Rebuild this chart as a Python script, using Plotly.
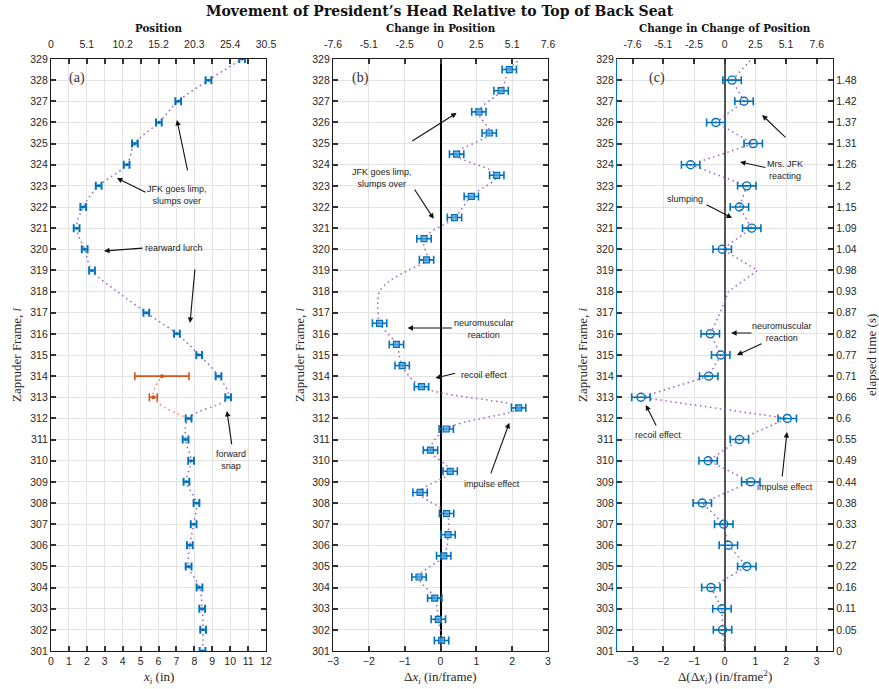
import plotly.graph_objects as go

# ---------------- data ----------------
# Panel (a): head position x_i (in) per Zapruder frame
frames_a = [301, 302, 303, 304, 305, 306, 307, 308, 309, 310, 311, 312, 313, 314,
            315, 316, 317, 319, 320, 321, 322, 323, 324, 325, 326, 327, 328, 329]
pos_a = [8.46, 8.49, 8.44, 8.29, 7.68, 7.75, 7.96, 8.12, 7.56, 7.82, 7.51, 7.68, 9.89, 9.35,
         8.27, 7.03, 5.32, 2.29, 1.88, 1.43, 1.80, 2.66, 4.22, 4.68, 6.02, 7.10, 8.79, 10.67]
err_a = [0.16] * len(frames_a)

# alternative (orange) reading for frames 313-314
frames_alt = [313, 314]
pos_alt = [5.71, 6.19]
err_alt = [0.22, 1.51]
trend_alt_frames = [312, 313, 314]
trend_alt = [7.68, 5.71, 6.19]

# dotted trend through panel (a)
trend_a_frames = list(range(301, 330))
trend_a = [8.46, 8.49, 8.44, 8.29, 7.68, 7.75, 7.96, 8.12, 7.56, 7.82, 7.51, 7.68, 9.89, 9.35,
           8.27, 7.03, 5.32, 3.70, 2.29, 1.88, 1.43, 1.80, 2.66, 4.22, 4.68, 6.02, 7.10, 8.79, 10.67]

# Panel (b): change in position (in/frame) at half frames
frames_b = [301.5, 302.5, 303.5, 304.5, 305.5, 306.5, 307.5, 308.5, 309.5, 310.5, 311.5,
            312.5, 313.5, 314.5, 315.5, 316.5, 319.5, 320.5, 321.5, 322.5, 323.5, 324.5,
            325.5, 326.5, 327.5, 328.5]
delta_b = [0.03, -0.06, -0.16, -0.60, 0.09, 0.21, 0.17, -0.57, 0.27, -0.28, 0.16,
           2.18, -0.53, -1.07, -1.23, -1.70, -0.39, -0.46, 0.39, 0.86, 1.57, 0.45,
           1.36, 1.07, 1.69, 1.92]
err_b = [0.20] * len(frames_b)

trend_b_frames = [301, 301.5, 302.5, 303.5, 304.5, 305.5, 306.5, 307.5, 308.5, 309.5, 310.5,
                  311.5, 312.5, 313.5, 314.5, 315.5, 316.5, 317, 317.5, 318, 318.5, 319,
                  319.5, 320.5, 321.5, 322.5, 323.5, 324.5, 325.5, 326.5, 327.5, 328.5, 329]
trend_b = [0.00, 0.03, -0.06, -0.16, -0.60, 0.09, 0.21, 0.17, -0.57, 0.27, -0.28,
           0.16, 2.18, -0.53, -1.07, -1.23, -1.70, -1.74, -1.75, -1.70, -1.42, -0.91,
           -0.39, -0.46, 0.39, 0.86, 1.57, 0.45, 1.36, 1.07, 1.69, 1.92, 2.24]

# Panel (c): change in change of position (in/frame^2)
frames_c = [302, 303, 304, 305, 306, 307, 308, 309, 310, 311, 312, 313, 314, 315, 316,
            320, 321, 322, 323, 324, 325, 326, 327, 328]
dd_c = [-0.07, -0.09, -0.45, 0.72, 0.12, -0.03, -0.73, 0.85, -0.54, 0.48, 2.04, -2.73,
        -0.52, -0.13, -0.47, -0.08, 0.88, 0.48, 0.72, -1.11, 0.93, -0.29, 0.63, 0.24]
err_c = [0.30] * len(frames_c)

trend_c_frames = list(range(301, 330))
trend_c = [0.00, -0.07, -0.09, -0.45, 0.72, 0.12, -0.03, -0.73, 0.85, -0.54, 0.48, 2.04, -2.73,
           -0.52, -0.13, -0.47, -0.15, 0.12, 1.07, -0.08, 0.88, 0.48, 0.72, -1.11, 0.93,
           -0.29, 0.63, 0.24, 0.88]

# tick labels
frame_ticks = list(range(301, 330))
cm_ticks_a_vals = [0, 2, 4, 6, 8, 10, 12]
cm_ticks_a_text = ["0", "5.1", "10.2", "15.2", "20.3", "25.4", "30.5"]
cm_ticks_bc_vals = [-3, -2, -1, 0, 1, 2, 3]
cm_ticks_bc_text = ["-7.6", "-5.1", "-2.5", "0", "2.5", "5.1", "7.6"]
time_frames = list(range(301, 329))
time_labels = ["0", "0.05", "0.11", "0.16", "0.22", "0.27", "0.33", "0.38", "0.44", "0.49",
               "0.55", "0.6", "0.66", "0.71", "0.77", "0.82", "0.87", "0.93", "0.98", "1.04",
               "1.09", "1.15", "1.2", "1.26", "1.31", "1.37", "1.42", "1.48"]

# ---------------- styles ----------------
BLUE = "#0072BD"
ORANGE = "#D95319"
PURPLE = "#9A62C4"
GRID = "#E3E3E3"
SANS = "Liberation Sans, Arial, sans-serif"
TSERIF = "DejaVu Serif, serif"
LSERIF = "Liberation Serif, serif"

W, H = 879, 689
ydom = [1 - 651 / H, 1 - 59 / H]
dom_a = [51 / W, 266 / W]
dom_b = [333 / W, 548 / W]
dom_c = [617 / W, 833 / W]

fig = go.Figure()

dot = dict(color=PURPLE, width=1.5, dash="1.5px,3.5px")

# panel a
fig.add_trace(go.Scatter(x=trend_a, y=trend_a_frames, mode="lines", line=dict(shape="spline", **dot),
                         xaxis="x", yaxis="y", hoverinfo="skip"))
fig.add_trace(go.Scatter(x=trend_alt, y=trend_alt_frames, mode="lines",
                         line=dict(color="#E8875A", width=1.5, dash="1.5px,3.5px", shape="spline"),
                         xaxis="x", yaxis="y", hoverinfo="skip"))
fig.add_trace(go.Scatter(x=pos_a, y=frames_a, mode="markers",
                         marker=dict(color=BLUE, size=3),
                         error_x=dict(type="data", array=err_a, color=BLUE, thickness=2, width=4),
                         xaxis="x", yaxis="y"))
fig.add_trace(go.Scatter(x=pos_alt, y=frames_alt, mode="markers",
                         marker=dict(color=ORANGE, size=4),
                         error_x=dict(type="data", array=err_alt, color=ORANGE, thickness=1.6, width=4),
                         xaxis="x", yaxis="y"))

# panel b
fig.add_trace(go.Scatter(x=trend_b, y=trend_b_frames, mode="lines", line=dict(shape="spline", **dot),
                         xaxis="x2", yaxis="y2", hoverinfo="skip"))
fig.add_trace(go.Scatter(x=delta_b, y=frames_b, mode="markers",
                         marker=dict(symbol="square", color="rgba(77,160,220,0.75)", size=6,
                                     line=dict(color=BLUE, width=1.2)),
                         error_x=dict(type="data", array=err_b, color=BLUE, thickness=1.6, width=4),
                         xaxis="x2", yaxis="y2"))

# panel c
fig.add_trace(go.Scatter(x=trend_c, y=trend_c_frames, mode="lines", line=dot,
                         xaxis="x3", yaxis="y3", hoverinfo="skip"))
fig.add_trace(go.Scatter(x=dd_c, y=frames_c, mode="markers",
                         marker=dict(symbol="circle-open", color=BLUE, size=8, line=dict(width=1.4)),
                         error_x=dict(type="data", array=err_c, color=BLUE, thickness=1.6, width=4),
                         xaxis="x3", yaxis="y3"))

# invisible anchors for overlay axes
for xa, ya in [("x4", "y"), ("x5", "y2"), ("x6", "y3"), ("x3", "y4")]:
    fig.add_trace(go.Scatter(x=[None], y=[None], xaxis=xa, yaxis=ya, mode="markers",
                             showlegend=False, hoverinfo="skip"))

tickfont = dict(family=SANS, size=10.5, color="#262626")


def xbase(dom, rng, dtick, anchor, zeroline=False, zcolor="black", zwidth=1):
    return dict(domain=dom, range=rng, anchor=anchor, dtick=dtick, tick0=0, automargin=False,
                showgrid=True, gridcolor=GRID, gridwidth=1,
                showline=True, linecolor="#1a1a1a", linewidth=1.2, mirror="ticks",
                ticks="inside", ticklen=5, tickwidth=1.5, tickcolor="#333",
                tickfont=tickfont, zeroline=zeroline, zerolinecolor=zcolor, zerolinewidth=zwidth,
                fixedrange=True)


def ybase(dom, anchor, linecolor="#1a1a1a", mirror="ticks"):
    return dict(domain=dom, range=[301, 329], anchor=anchor, tickvals=frame_ticks, automargin=False,
                showgrid=True, gridcolor=GRID, gridwidth=1,
                showline=True, linecolor=linecolor, linewidth=1.2, mirror=mirror,
                ticks="inside", ticklen=5, tickwidth=1.5, tickcolor="#333",
                tickfont=tickfont, zeroline=False, fixedrange=True)


def xtop(dom, rng, over, anchor, vals, texts):
    return dict(domain=dom, range=rng, overlaying=over, anchor=anchor, side="top", automargin=False,
                tickvals=vals, ticktext=texts, showgrid=False, zeroline=False,
                showline=False, ticks="outside", ticklen=6, tickcolor="rgba(0,0,0,0)",
                tickfont=tickfont, fixedrange=True)


fig.update_layout(
    width=W, height=H, margin=dict(l=0, r=0, t=0, b=0),
    paper_bgcolor="white", plot_bgcolor="white", showlegend=False,
    xaxis=xbase(dom_a, [0, 12], 1, "y"),
    yaxis=ybase(ydom, "x"),
    xaxis2=xbase(dom_b, [-3, 3], 1, "y2", zeroline=True, zcolor="black", zwidth=1.5),
    yaxis2=ybase(ydom, "x2"),
    xaxis3=xbase(dom_c, [-3.51, 3.53], 1, "y3", zeroline=True, zcolor="#555555", zwidth=2),
    yaxis3=ybase(ydom, "x3", linecolor=BLUE, mirror=False),
    xaxis4=xtop(dom_a, [0, 12], "x", "y", cm_ticks_a_vals, cm_ticks_a_text),
    xaxis5=xtop(dom_b, [-3, 3], "x2", "y2", cm_ticks_bc_vals, cm_ticks_bc_text),
    xaxis6=xtop(dom_c, [-3.51, 3.53], "x3", "y3", cm_ticks_bc_vals, cm_ticks_bc_text),
    yaxis4=dict(domain=ydom, range=[301, 329], overlaying="y3", anchor="x3", side="right",
                automargin=False, tickvals=time_frames, ticktext=time_labels, showgrid=False,
                zeroline=False, showline=True, linecolor="#262626", linewidth=1.2,
                ticks="inside", ticklen=5, tickwidth=1.5, tickcolor="#333", tickfont=tickfont,
                fixedrange=True),
)

ann = []
# titles
ann.append(dict(text="<b>Movement of President’s Head Relative to Top of Back Seat</b>",
                x=0.5, y=1 - 11 / H, xref="paper", yref="paper", showarrow=False,
                font=dict(family=TSERIF, size=14, color="#111"), xanchor="center", yanchor="middle"))
for txt, cx in [("Position", 158.5), ("Change in Position", 440.5),
                ("Change in Change of Position", 725)]:
    ann.append(dict(text=f"<b>{txt}</b>", x=cx / W, y=1 - 27.5 / H, xref="paper", yref="paper",
                    showarrow=False, font=dict(family=TSERIF, size=10.3, color="#111"),
                    xanchor="center", yanchor="middle"))

# axis titles
atfont = dict(family=LSERIF, size=13, color="#262626")
for t, cx in [("<i>x<sub>i</sub></i> (in)", 158.5), ("Δ<i>x<sub>i</sub></i> (in/frame)", 440.5),
              ("Δ(Δ<i>x<sub>i</sub></i>) (in/frame<sup>2</sup>)", 725)]:
    ann.append(dict(text=t, x=cx / W, y=1 - 677 / H, xref="paper", yref="paper", showarrow=False,
                    font=atfont, xanchor="center", yanchor="middle"))
for t, cx in [("Zapruder Frame, <i>i</i>", 16), ("Zapruder Frame, <i>i</i>", 299),
              ("Zapruder Frame, <i>i</i>", 582), ("elapsed time (s)", 871)]:
    ann.append(dict(text=t, x=cx / W, y=1 - 355 / H, xref="paper", yref="paper", showarrow=False,
                    font=atfont, textangle=-90, xanchor="center", yanchor="middle"))

# panel letters
for lbl, xr, yr, xv in [("(a)", "x", "y", 1.45), ("(b)", "x2", "y2", -2.23), ("(c)", "x3", "y3", -2.22)]:
    ann.append(dict(text=lbl, x=xv, y=328.1, xref=xr, yref=yr, showarrow=False,
                    font=dict(family=LSERIF, size=14, color="#333")))

afont = dict(family=SANS, size=9, color="#222")


def text(t, x, y, xr, yr):
    ann.append(dict(text=t, x=x, y=y, xref=xr, yref=yr, showarrow=False, font=afont, align="center"))


def arrow(tx, ty, hx, hy, xr, yr):
    ann.append(dict(text="", x=hx, y=hy, ax=tx, ay=ty, xref=xr, yref=yr, axref=xr, ayref=yr,
                    showarrow=True, arrowhead=2, arrowsize=1.0, arrowwidth=1.1, arrowcolor="#111"))


# panel (a)
text("JFK goes limp,<br>slumps over", 7.03, 322.57, "x", "y")
arrow(7.64, 323.66, 7.03, 326.12, "x", "y")
arrow(5.36, 322.66, 3.68, 323.37, "x", "y")
text("rearward lurch", 6.86, 320.06, "x", "y")
arrow(5.20, 320.06, 2.96, 319.92, "x", "y")
arrow(8.04, 319.12, 7.76, 316.52, "x", "y")
text("forward<br>snap", 10.04, 310.03, "x", "y")
arrow(10.10, 310.70, 9.82, 312.35, "x", "y")

# panel (b)
text("JFK goes limp,<br>slumps over", -1.64, 323.37, "x2", "y2")
arrow(-0.83, 325.08, 0.45, 326.45, "x2", "y2")
arrow(-0.75, 322.90, -0.19, 321.44, "x2", "y2")
text("neuromuscular<br>reaction", 1.22, 316.23, "x2", "y2")
arrow(0.36, 316.28, -0.92, 316.28, "x2", "y2")
text("recoil effect", 1.22, 314.06, "x2", "y2")
arrow(0.45, 314.15, -0.14, 313.91, "x2", "y2")
text("impulse effect", 1.45, 308.90, "x2", "y2")
arrow(1.39, 309.33, 1.92, 311.79, "x2", "y2")

# panel (c)
arrow(2.03, 325.22, 1.22, 326.35, "x3", "y3")
text("Mrs. JFK<br>reacting", 1.97, 323.75, "x3", "y3")
arrow(1.38, 323.85, 0.50, 324.13, "x3", "y3")
text("slumping", -1.29, 322.38, "x3", "y3")
arrow(-0.64, 322.14, 0.24, 321.48, "x3", "y3")
text("neuromuscular<br>reaction", 1.87, 316.09, "x3", "y3")
arrow(0.92, 316.04, 0.21, 316.04, "x3", "y3")
arrow(1.25, 315.57, 0.40, 315.00, "x3", "y3")
text("recoil effect", -2.17, 311.22, "x3", "y3")
arrow(-2.21, 311.60, -2.57, 312.64, "x3", "y3")
text("impulse effect", 1.97, 308.76, "x3", "y3")
arrow(1.87, 309.18, 2.03, 311.36, "x3", "y3")

fig.update_layout(annotations=ann)
fig.write_html("out.html", config={"displayModeBar": False},
               post_script="document.body.style.margin='0';")
